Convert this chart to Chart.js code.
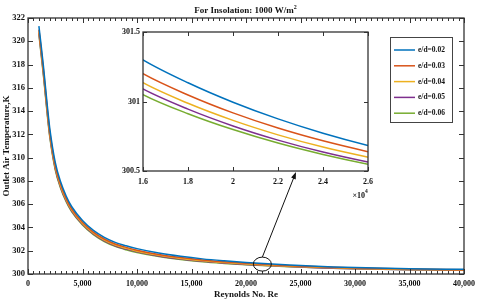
<!DOCTYPE html>
<html>
<head>
<meta charset="utf-8">
<script src="https://cdn.jsdelivr.net/npm/chart.js"></script>
<style>
  body { margin: 0; background: #fff; }
  #wrap { position: relative; width: 480px; height: 305px; }
  #main { position: absolute; left: 0; top: 0; }
  #inset { position: absolute; left: 100px; top: 20px; }
</style>
</head>
<body>
<div id="wrap">
  <canvas id="main" width="480" height="305"></canvas>
  <canvas id="inset" width="280" height="260"></canvas>
</div>
<script>
// Reynolds numbers and outlet air temperature (K) for each e/d
const reynolds = [1000, 1200, 1400, 1600, 1800, 2000, 2500, 3000, 3500, 4000, 5000, 6000, 7000, 8000, 9000, 10000,
                  12000, 14000, 16000, 18000, 20000, 22000, 24000, 26000, 28000, 30000, 35000, 40000];
const ed002 = [321.30, 319.70, 318.00, 316.10, 314.20, 312.50, 309.60, 307.90, 306.70, 305.80, 304.60, 303.75, 303.15, 302.72, 302.42, 302.18,
               301.80, 301.52, 301.30, 301.135, 300.995, 300.875, 300.772, 300.684, 300.61, 300.55, 300.45, 300.40];
const ed003 = [321.00, 319.40, 317.70, 315.80, 313.90, 312.20, 309.34, 307.68, 306.50, 305.62, 304.44, 303.60, 303.01, 302.58, 302.29, 302.05,
               301.68, 301.41, 301.20, 301.047, 300.918, 300.809, 300.717, 300.639, 300.57, 300.514, 300.42, 300.373];
const ed004 = [320.85, 319.20, 317.50, 315.60, 313.70, 312.02, 309.18, 307.54, 306.38, 305.51, 304.34, 303.51, 302.92, 302.49, 302.20, 301.96,
               301.60, 301.34, 301.135, 300.987, 300.864, 300.76, 300.672, 300.599, 300.533, 300.48, 300.39, 300.345];
const ed005 = [320.70, 319.05, 317.35, 315.45, 313.55, 311.88, 309.06, 307.44, 306.29, 305.43, 304.27, 303.44, 302.85, 302.43, 302.14, 301.91,
               301.55, 301.29, 301.09, 300.945, 300.824, 300.722, 300.636, 300.564, 300.502, 300.452, 300.365, 300.322];
const ed006 = [320.60, 318.90, 317.20, 315.30, 313.40, 311.75, 308.96, 307.35, 306.21, 305.36, 304.21, 303.38, 302.79, 302.37, 302.08, 301.85,
               301.50, 301.245, 301.05, 300.912, 300.798, 300.701, 300.619, 300.549, 300.49, 300.442, 300.355, 300.312];
const seriesLabels = ['e/d=0.02', 'e/d=0.03', 'e/d=0.04', 'e/d=0.05', 'e/d=0.06'];
const seriesColors = ['#0072BD', '#D95319', '#EDB120', '#7E2F8E', '#77AC30'];
const allSeries = [ed002, ed003, ed004, ed005, ed006];

const FONT = "'Liberation Serif', 'Times New Roman', serif";
Chart.defaults.font.family = FONT;
Chart.defaults.font.weight = 'bold';
Chart.defaults.color = '#111';

function makeDatasets() {
  return allSeries.map((vals, i) => ({
    label: seriesLabels[i],
    data: reynolds.map((r, j) => ({ x: r, y: vals[j] })),
    borderColor: seriesColors[i],
    borderWidth: 1.5,
    pointRadius: 0,
    cubicInterpolationMode: 'monotone'
  }));
}

// MATLAB-style box with inward ticks
function drawBoxTicks(chart, xMinor, majorLen, minorLen) {
  const ctx = chart.ctx, a = chart.chartArea, xs = chart.scales.x, ys = chart.scales.y;
  ctx.save();
  ctx.strokeStyle = '#333';
  ctx.lineWidth = 1;
  ctx.beginPath();
  if (xMinor) {
    for (let v = xs.min; v <= xs.max; v += xMinor) {
      const px = Math.round(xs.getPixelForValue(v)) + 0.5;
      ctx.moveTo(px, a.bottom); ctx.lineTo(px, a.bottom - minorLen);
      ctx.moveTo(px, a.top); ctx.lineTo(px, a.top + minorLen);
    }
  }
  xs.ticks.forEach(t => {
    const px = Math.round(xs.getPixelForValue(t.value)) + 0.5;
    ctx.moveTo(px, a.bottom); ctx.lineTo(px, a.bottom - majorLen);
    ctx.moveTo(px, a.top); ctx.lineTo(px, a.top + majorLen);
  });
  ys.ticks.forEach(t => {
    const py = Math.round(ys.getPixelForValue(t.value)) + 0.5;
    ctx.moveTo(a.left, py); ctx.lineTo(a.left + majorLen, py);
    ctx.moveTo(a.right, py); ctx.lineTo(a.right - majorLen, py);
  });
  ctx.stroke();
  ctx.lineWidth = 1.3;
  ctx.strokeRect(a.left, a.top, a.right - a.left, a.bottom - a.top);
  ctx.restore();
}

const mainDecor = {
  id: 'mainDecor',
  afterDraw(chart) {
    const ctx = chart.ctx, a = chart.chartArea;
    drawBoxTicks(chart, 500, 5, 3);
    ctx.save();
    ctx.fillStyle = '#111';
    // title
    ctx.font = 'bold 9px ' + FONT;
    const t1 = 'For Insolation: 1000 W/m';
    const w1 = ctx.measureText(t1).width;
    const cx = (a.left + a.right) / 2;
    ctx.textBaseline = 'alphabetic';
    ctx.fillText(t1, cx - (w1 + 4) / 2, 13);
    ctx.font = 'bold 6px ' + FONT;
    ctx.fillText('2', cx - (w1 + 4) / 2 + w1, 9);
    // axis titles
    ctx.font = 'bold 9px ' + FONT;
    ctx.textAlign = 'center';
    ctx.textBaseline = 'middle';
    ctx.fillText('Reynolds No. Re', cx, 295);
    ctx.save();
    ctx.translate(7, (a.top + a.bottom) / 2);
    ctx.rotate(-Math.PI / 2);
    ctx.fillText('Outlet Air Temperature,K', 0, 0);
    ctx.restore();
    // legend
    const lx = 390, ly = 37, lw = 62, lh = 85;
    ctx.fillStyle = '#fff';
    ctx.fillRect(lx, ly, lw, lh);
    ctx.strokeStyle = '#444';
    ctx.lineWidth = 1;
    ctx.strokeRect(lx + 0.5, ly + 0.5, lw, lh);
    ctx.font = 'bold 7.5px ' + FONT;
    ctx.textAlign = 'left';
    seriesLabels.forEach((lab, i) => {
      const y = ly + 13 + i * 15.8;
      ctx.strokeStyle = seriesColors[i];
      ctx.lineWidth = 1.5;
      ctx.beginPath(); ctx.moveTo(lx + 4, y); ctx.lineTo(lx + 25, y); ctx.stroke();
      ctx.fillStyle = '#111';
      ctx.fillText(lab, lx + 28, y);
    });
    // highlight ellipse
    const ex = chart.scales.x.getPixelForValue(21500), ey = chart.scales.y.getPixelForValue(300.85);
    ctx.strokeStyle = '#111';
    ctx.lineWidth = 1;
    ctx.beginPath(); ctx.ellipse(ex, ey, 9, 7, 0, 0, Math.PI * 2); ctx.stroke();
    ctx.restore();
  }
};

const mainChart = new Chart(document.getElementById('main'), {
  type: 'line',
  data: { datasets: makeDatasets() },
  plugins: [mainDecor],
  options: {
    responsive: false,
    animation: false,
    layout: { padding: { left: 0, top: 18, right: 16, bottom: 0 } },
    plugins: { legend: { display: false }, tooltip: { enabled: false } },
    scales: {
      x: {
        type: 'linear', min: 0, max: 40000,
        grid: { display: false, drawTicks: false },
        border: { display: false },
        afterFit(s) { s.height = 31; },
        ticks: { stepSize: 5000, padding: 5, maxRotation: 0, font: { size: 8 },
                 callback: v => v.toLocaleString('en-US') }
      },
      y: {
        min: 300, max: 322,
        grid: { display: false, drawTicks: false },
        border: { display: false },
        afterFit(s) { s.width = 28; },
        ticks: { stepSize: 2, padding: 3, font: { size: 8.5 } }
      }
    }
  }
});

const insetDecor = {
  id: 'insetDecor',
  beforeDatasetsDraw(chart) {
    const a = chart.chartArea;
    chart.ctx.save();
    chart.ctx.fillStyle = '#fff';
    chart.ctx.fillRect(a.left, a.top, a.right - a.left, a.bottom - a.top);
    chart.ctx.restore();
  },
  afterDraw(chart) {
    const ctx = chart.ctx, a = chart.chartArea;
    drawBoxTicks(chart, 0, 4, 0);
    ctx.save();
    ctx.fillStyle = '#111';
    ctx.font = 'bold 8px ' + FONT;
    ctx.textAlign = 'right';
    ctx.textBaseline = 'middle';
    ctx.fillText('\u00d710', a.right - 3, a.bottom + 25);
    ctx.font = 'bold 5.5px ' + FONT;
    ctx.textAlign = 'left';
    ctx.fillText('4', a.right - 3, a.bottom + 21);
    // arrow from main-plot ellipse to inset
    const mx = mainChart.scales.x.getPixelForValue(21500) - 100;
    const my = mainChart.scales.y.getPixelForValue(300.85) - 20 - 7;
    const tx = chart.scales.x.getPixelForValue(22800), ty = a.bottom + 1;
    const ang = Math.atan2(ty - my, tx - mx);
    ctx.strokeStyle = '#111';
    ctx.lineWidth = 1;
    ctx.beginPath(); ctx.moveTo(mx, my); ctx.lineTo(tx - 5 * Math.cos(ang), ty - 5 * Math.sin(ang)); ctx.stroke();
    ctx.beginPath();
    ctx.moveTo(tx, ty);
    ctx.lineTo(tx - 7 * Math.cos(ang) + 2.5 * Math.sin(ang), ty - 7 * Math.sin(ang) - 2.5 * Math.cos(ang));
    ctx.lineTo(tx - 7 * Math.cos(ang) - 2.5 * Math.sin(ang), ty - 7 * Math.sin(ang) + 2.5 * Math.cos(ang));
    ctx.closePath(); ctx.fill();
    ctx.restore();
  }
};

new Chart(document.getElementById('inset'), {
  type: 'line',
  data: { datasets: makeDatasets() },
  plugins: [insetDecor],
  options: {
    responsive: false,
    animation: false,
    layout: { padding: { left: 0, top: 12, right: 12, bottom: 0 } },
    plugins: { legend: { display: false }, tooltip: { enabled: false } },
    scales: {
      x: {
        type: 'linear', min: 16000, max: 26000,
        grid: { display: false, drawTicks: false },
        border: { display: false },
        afterFit(s) { s.height = 109; },
        ticks: { stepSize: 2000, padding: 6, maxRotation: 0, font: { size: 8 },
                 callback: v => String(Math.round(v / 1000) / 10) }
      },
      y: {
        min: 300.5, max: 301.5,
        grid: { display: false, drawTicks: false },
        border: { display: false },
        afterFit(s) { s.width = 43; },
        ticks: { stepSize: 0.5, padding: 3, font: { size: 8 },
                 callback: v => String(Math.round(v * 10) / 10) }
      }
    }
  }
});
</script>
</body>
</html>
